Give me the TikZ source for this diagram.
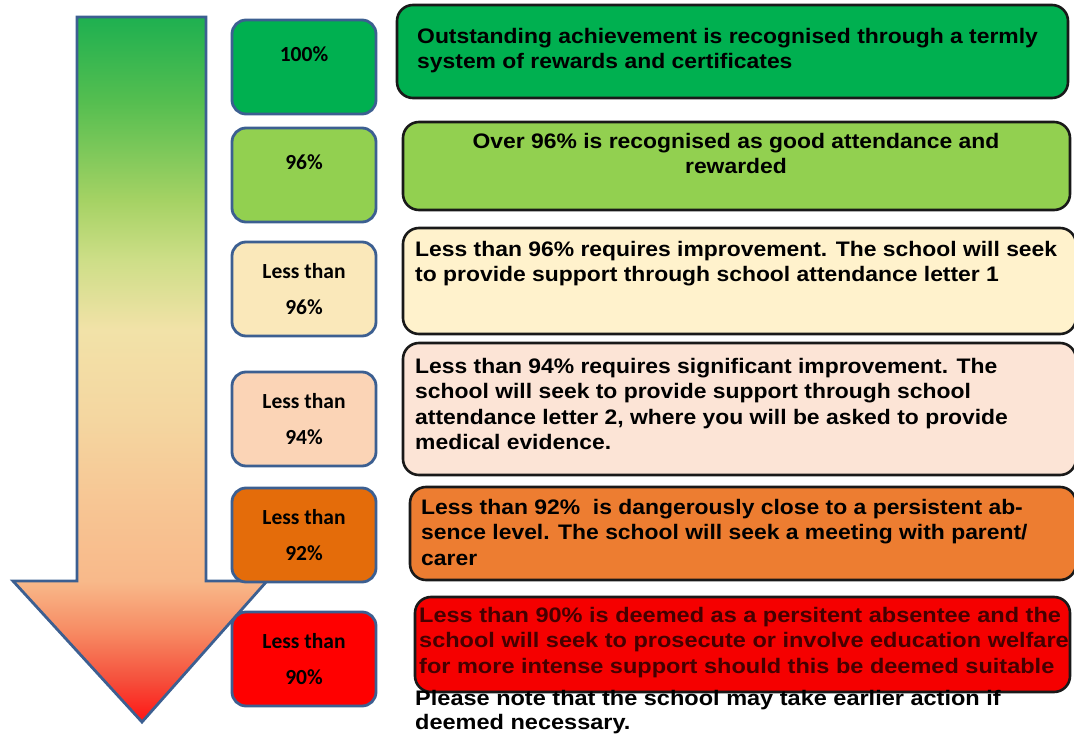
\documentclass[tikz,border=0pt]{standalone}
\usepackage{fontspec}
\setmainfont{Liberation Sans}
\newfontfamily\calfont{Carlito}
\newfontfamily\notefont{Liberation Sans}[FakeStretch=1.09]
\newfontfamily\widefont{Liberation Sans}[FakeStretch=1.12]
\usetikzlibrary{positioning}
\usepackage{xcolor}

\definecolor{edgeblue}{RGB}{60,95,145}
\definecolor{lvA}{RGB}{0,176,80}
\definecolor{lvB}{RGB}{146,208,80}
\definecolor{lvC}{RGB}{250,232,186}
\definecolor{lvD}{RGB}{251,212,182}
\definecolor{lvE}{RGB}{228,108,10}
\definecolor{lvF}{RGB}{255,0,0}
\definecolor{nbC}{RGB}{255,242,204}
\definecolor{nbD}{RGB}{252,228,214}
\definecolor{nbE}{RGB}{237,125,49}
\definecolor{nbF}{RGB}{245,0,0}
\definecolor{redtext}{RGB}{70,0,0}
% colours down the big arrow
\definecolor{sg0}{RGB}{30,176,80}
\definecolor{sg1}{RGB}{85,190,80}
\definecolor{sg2}{RGB}{165,210,100}
\definecolor{sg3}{RGB}{205,222,135}
\definecolor{sy0}{RGB}{242,226,168}
\definecolor{sy1}{RGB}{244,214,160}
\definecolor{so0}{RGB}{247,198,148}
\definecolor{so1}{RGB}{248,185,138}
\definecolor{sr0}{RGB}{247,140,100}
\definecolor{sr1}{RGB}{245,80,60}
\definecolor{sr2}{RGB}{255,20,20}
\pgfdeclareverticalshading{arrowfade}{100bp}{color(0bp)=(sr2); color(25bp)=(sr2);
  color(28bp)=(sr1); color(31.5bp)=(sr0); color(35bp)=(so1); color(40.7bp)=(so0);
  color(46.4bp)=(sy1); color(52.8bp)=(sy0); color(57.8bp)=(sg3); color(62bp)=(sg2);
  color(69bp)=(sg1); color(75bp)=(sg0); color(100bp)=(sg0)}

\begin{document}
\begin{tikzpicture}[x=1pt,y=-1pt,
    pctbox/.style={draw=edgeblue, line width=2.8pt, rounded corners=14pt,
      minimum width=144pt, minimum height=94pt, align=center, inner sep=0pt,
      font=\calfont\bfseries\fontsize{21.5}{36}\selectfont, text=black},
    notebox/.style={draw=black!90, line width=2.6pt, rounded corners=16pt},
    notetext/.style={anchor=north west, align=left, inner sep=0pt,
      font=\notefont\bfseries\fontsize{21}{25.5}\selectfont},
    widetext/.style={notetext, font=\widefont\bfseries\fontsize{21}{25.5}\selectfont}]
  \useasboundingbox (0,0) rectangle (1074,735);

  % the big arrow, green at the top down to red
  \draw[draw=edgeblue, line width=2.8pt, shade, shading=arrowfade]
    (77,17) -- (206,17) -- (206,581) -- (267,581) -- (142,722)
    -- (13,581) -- (77,581) -- cycle;

  % percentage boxes
  \foreach \i/\yc/\c/\t in {1/67/lvA/{100\%\\[-10pt]\phantom{0}},
                            2/175/lvB/{96\%\\[-10pt]\phantom{0}},
                            3/289/lvC/{Less than\\96\%},
                            4/419/lvD/{Less than\\94\%},
                            5/535/lvE/{Less than\\92\%},
                            6/659/lvF/{Less than\\90\%}} {
    \node[pctbox, fill=\c] (pct\i) at (304,\yc) {\t};
  }

  % explanation boxes
  \foreach \xl/\yt/\xr/\yb/\c in {397/5/1068/98/lvA, 403/122/1070/210/lvB,
                                  403/228/1076/334/nbC, 403/343/1076/475/nbD,
                                  410/487/1076/580/nbE, 415/597/1070/692/nbF} {
    \draw[notebox, fill=\c] (\xl,\yt) rectangle (\xr,\yb);
  }

  \node[notetext] (txtA) at (417,28)
    {Outstanding achievement is recognised through a termly\\system of rewards and certificates};
  \node[notetext, anchor=north, align=center] (txtB) at (736,133)
    {Over 96\% is recognised as good attendance and\\rewarded};
  \node[notetext] (txtC) at (415,241)
    {Less than 96\% requires improvement. The school will seek\\to provide support through school attendance letter 1};
  \node[notetext] (txtD) at (415,358)
    {Less than 94\% requires significant improvement. The\\school will seek to provide support through school\\attendance letter 2, where you will be asked to provide\\medical evidence.};
  \node[notetext] (txtE) at (421,499)
    {Less than 92\%\ \ is dangerously close to a persistent ab-\\sence level. The school will seek a meeting with parent/\\carer};
  \node[widetext, text=redtext] (txtF) at (419,607)
    {Less than 90\% is deemed as a persitent absentee and the\\school will seek to prosecute or involve education welfare\\for more intense support should this be deemed suitable};
  \node[widetext, font=\widefont\bfseries\fontsize{21}{24.5}\selectfont] (txtNote) at (415,690)
    {Please note that the school may take earlier action if\\deemed necessary.};
\end{tikzpicture}
\end{document}
